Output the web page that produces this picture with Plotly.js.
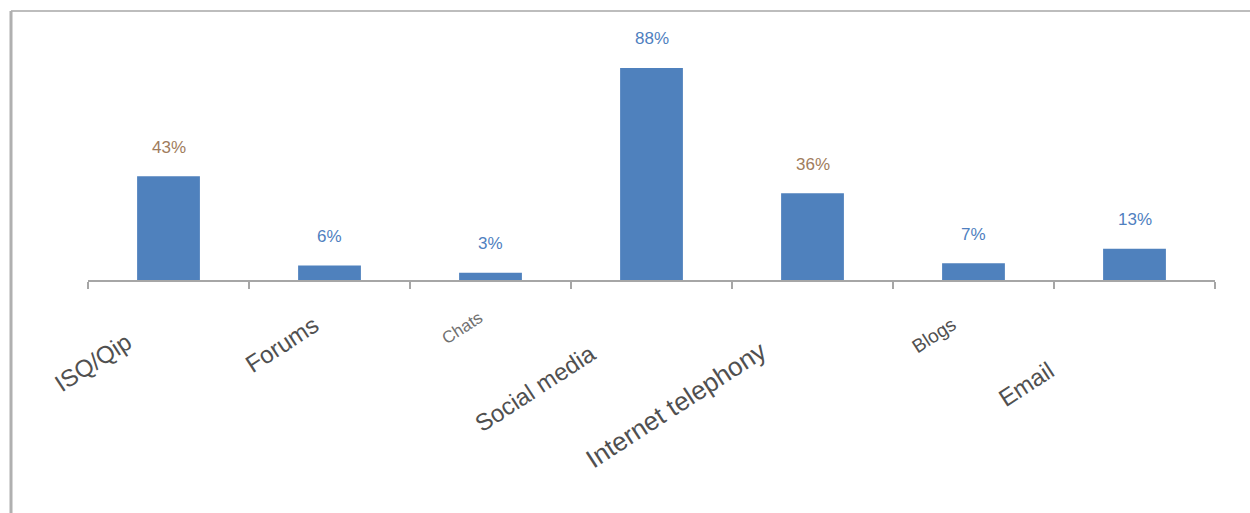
<!DOCTYPE html>
<html>
<head>
<meta charset="utf-8">
<script src="https://cdn.plot.ly/plotly-3.0.1.min.js"></script>
<style>html,body{margin:0;padding:0;background:#fff;}#chart{width:1250px;height:513px;}</style>
</head>
<body>
<div id="chart"></div>
<script>
// ---- data ----
var categories = ["ISQ/Qip", "Forums", "Chats", "Social media", "Internet telephony", "Blogs", "Email"];
var values = [43, 6, 3, 88, 36, 7, 13];
var valueLabels = ["43%", "6%", "3%", "88%", "36%", "7%", "13%"];

// ---- styling (not data) ----
var valueColors = ["#a07c5c", "#4f7fc0", "#4f7fc0", "#4f7fc0", "#a07c5c", "#4f7fc0", "#4f7fc0"];
var catLabelStyle = [
  {dx: -76, dy: -82, size: 24, color: "#505050"},
  {dx: -48, dy: -64, size: 24, color: "#505050"},
  {dx: -29, dy: -48, size: 17, color: "#707070"},
  {dx: -117, dy: -108, size: 24, color: "#505050"},
  {dx: -137, dy: -125, size: 26, color: "#505050"},
  {dx: -40, dy: -55, size: 19, color: "#505050"},
  {dx: -109, dy: -104, size: 24, color: "#505050"}
];

var annotations = [];
categories.forEach(function (c, i) {
  annotations.push({
    x: c, y: values[i], xref: "x", yref: "y",
    text: valueLabels[i], showarrow: false,
    xanchor: "center", yanchor: "middle", yshift: 29,
    font: {family: "Liberation Sans, Arial, sans-serif", size: 17, color: valueColors[i]}
  });
  var s = catLabelStyle[i];
  annotations.push({
    x: c, y: 0, xref: "x", yref: "y",
    text: c, showarrow: false, textangle: -33,
    xanchor: "center", yanchor: "middle",
    xshift: s.dx, yshift: s.dy,
    font: {family: "Liberation Sans, Arial, sans-serif", size: s.size, color: s.color}
  });
});

var trace = {
  type: "bar",
  x: categories,
  y: values,
  width: 0.39,
  marker: {color: "#4f81bd"},
  hoverinfo: "x+y"
};

var plotH = 269, plotW = 1127;
var layout = {
  width: 1250, height: 513,
  margin: {l: 88, r: 35, t: 11, b: 233, pad: 0},
  paper_bgcolor: "#fff", plot_bgcolor: "#fff",
  showlegend: false,
  xaxis: {
    type: "category",
    showticklabels: false,
    tickson: "boundaries",
    ticks: "outside", ticklen: 7, tickwidth: 2, tickcolor: "#a6a6a6",
    showline: true, linecolor: "#a6a6a6", linewidth: 2,
    showgrid: false, zeroline: false,
    range: [-0.5, 6.5]
  },
  yaxis: {
    range: [0, 111.6],
    visible: false, showgrid: false, zeroline: false
  },
  annotations: annotations,
  shapes: [
    {type: "line", xref: "paper", yref: "paper",
     x0: (11 - 88) / plotW, x1: (1250 - 88) / plotW, y0: 1, y1: 1,
     line: {color: "#bdbdbd", width: 2}},
    {type: "line", xref: "paper", yref: "paper",
     x0: (11 - 88) / plotW, x1: (11 - 88) / plotW, y0: 1, y1: (280 - 520) / plotH,
     line: {color: "#b0b0b0", width: 3}}
  ]
};

Plotly.newPlot("chart", [trace], layout, {displayModeBar: false, staticPlot: true});
</script>
</body>
</html>
